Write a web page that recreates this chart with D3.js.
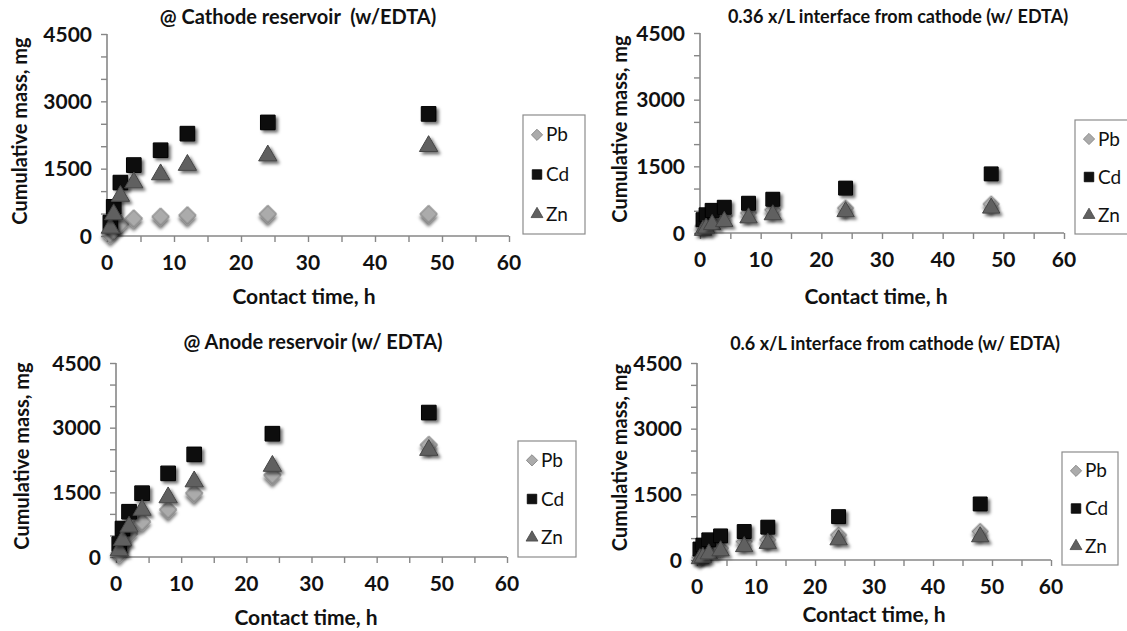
<!DOCTYPE html>
<html><head><meta charset="utf-8">
<script src="https://cdn.jsdelivr.net/npm/d3@7"></script>
<style>
body{margin:0;background:#fff;}
svg{display:block;font-family:Lato,'Open Sans',sans-serif;}
text{white-space:pre;}
</style>
</head><body>
<svg id="c" width="1127" height="631"></svg>
<script>
// ---- data ----
const times = [0.5, 1, 2, 4, 8, 12, 24, 48];
const metals = ["Pb", "Cd", "Zn"];
const xTickLabels = [0, 10, 20, 30, 40, 50, 60];
const yTickLabels = [0, 1500, 3000, 4500];

const cathodePb = [40, 150, 270, 390, 430, 460, 490, 490];
const cathodeCd = [300, 650, 1190, 1580, 1910, 2280, 2530, 2720];
const cathodeZn = [180, 480, 890, 1190, 1370, 1580, 1790, 2000];

const int036Pb = [150, 230, 300, 380, 450, 520, 560, 650];
const int036Cd = [300, 410, 510, 580, 670, 760, 1010, 1330];
const int036Zn = [60, 110, 190, 260, 340, 410, 480, 560];

const anodePb = [80, 270, 540, 820, 1100, 1480, 1900, 2600];
const anodeCd = [300, 660, 1050, 1480, 1940, 2380, 2860, 3350];
const anodeZn = [150, 390, 700, 1090, 1380, 1750, 2110, 2480];

const int06Pb = [60, 114, 190, 270, 420, 460, 570, 650];
const int06Cd = [250, 340, 460, 550, 650, 750, 990, 1280];
const int06Zn = [30, 60, 140, 210, 305, 380, 460, 530];

const titles = [
  "@ Cathode reservoir  (w/EDTA)",
  "0.36 x/L interface from cathode (w/ EDTA)",
  "@ Anode reservoir (w/ EDTA)",
  "0.6 x/L interface from cathode (w/ EDTA)"
];
const xTitle = "Contact time, h";
const yTitle = "Cumulative mass, mg";

// ---- layout ----
const panels = [
  {data: [cathodePb, cathodeCd, cathodeZn], title: titles[0],
   x0: 107, x1: 509, y0: 236, y1: 34, titleX: 298, titleY: 24, titleSize: 20,
   yLabX: 20, xLabX: 304, xLabY: 304, ms: 1,
   leg: {x: 523, y: 115, w: 62, h: 119}},
  {data: [int036Pb, int036Cd, int036Zn], title: titles[1],
   x0: 700, x1: 1064, y0: 233, y1: 33, titleX: 898, titleY: 23, titleSize: 18,
   yLabX: 620, xLabX: 876, xLabY: 304, ms: 0.9,
   leg: {x: 1075, y: 120, w: 62, h: 114}},
  {data: [anodePb, anodeCd, anodeZn], title: titles[2],
   x0: 116, x1: 507, y0: 557, y1: 363, titleX: 313, titleY: 349, titleSize: 20,
   yLabX: 22, xLabX: 306, xLabY: 625, ms: 1,
   leg: {x: 518, y: 441, w: 58, h: 116}},
  {data: [int06Pb, int06Cd, int06Zn], title: titles[3],
   x0: 697, x1: 1051, y0: 560, y1: 363, titleX: 895, titleY: 350, titleSize: 18,
   yLabX: 620, xLabX: 874, xLabY: 622, ms: 0.9,
   leg: {x: 1062, y: 452, w: 56, h: 113}}
];

const styles = {
  Pb: {fill: "#ababab", stroke: "#7f7f7f", type: d3.symbolSquare, rot: 45, size: 150},
  Cd: {fill: "#111111", stroke: "#000000", type: d3.symbolSquare, rot: 0, size: 215},
  Zn: {fill: "#606060", stroke: "#454545", type: d3.symbolTriangle, rot: 0, size: 145}
};

const svg = d3.select("#c");
const defs = svg.append("defs");
const f = defs.append("filter").attr("id", "sh").attr("x", "-50%").attr("y", "-50%").attr("width", "200%").attr("height", "200%");
f.append("feDropShadow").attr("dx", 2.5).attr("dy", 2.5).attr("stdDeviation", 1.8)
  .attr("flood-color", "#000").attr("flood-opacity", 0.55);

panels.forEach(p => {
  const g = svg.append("g");
  const x = d3.scaleLinear().domain([0, 60]).range([p.x0, p.x1]);
  const y = d3.scaleLinear().domain([0, 4500]).range([p.y0, p.y1]);

  const xa = g.append("g").attr("transform", `translate(0,${p.y0})`)
    .call(d3.axisBottom(x).tickValues(d3.range(0, 61, 5)).tickSize(6).tickFormat(""));
  const ya = g.append("g").attr("transform", `translate(${p.x0},0)`)
    .call(d3.axisLeft(y).tickValues(d3.range(0, 4501, 500)).tickSize(6).tickFormat(""));
  [xa, ya].forEach(a => {
    a.select(".domain").attr("stroke", "#878787").attr("stroke-width", 1.6);
    a.selectAll(".tick line").attr("stroke", "#878787").attr("stroke-width", 1.4);
  });
  xa.select(".domain").attr("d", `M${p.x0},0H${p.x1}`);
  ya.select(".domain").attr("d", `M0,${p.y0}V${p.y1}`);

  g.selectAll(".xl").data(xTickLabels).join("text")
    .attr("x", d => x(d)).attr("y", p.y0 + 34)
    .attr("text-anchor", "middle").attr("font-weight", 700).attr("font-size", 21)
    .attr("fill", "#111").text(d => d);
  g.selectAll(".yl").data(yTickLabels).join("text")
    .attr("x", p.x0 - 15).attr("y", d => y(d) + 7.5)
    .attr("text-anchor", "end").attr("font-weight", 700).attr("font-size", 21)
    .attr("fill", "#111").text(d => d);

  g.append("text").attr("x", p.titleX).attr("y", p.titleY).attr("text-anchor", "middle")
    .attr("font-weight", 700).attr("font-size", p.titleSize).attr("fill", "#111").text(p.title);
  g.append("text").attr("x", p.xLabX).attr("y", p.xLabY).attr("text-anchor", "middle")
    .attr("font-weight", 700).attr("font-size", 21).attr("fill", "#111").text(xTitle);
  const cy = (p.y0 + p.y1) / 2 - 4;
  g.append("text").attr("transform", `translate(${p.yLabX + 7},${cy}) rotate(-90)`)
    .attr("text-anchor", "middle").attr("font-weight", 700).attr("font-size", 20)
    .attr("fill", "#111").text(yTitle);

  metals.forEach((m, i) => {
    const vals = p.data[i];
    const st = styles[m];
    g.append("g").selectAll("path").data(times.map((t, j) => [t, vals[j]])).join("path")
      .attr("d", d3.symbol().type(st.type).size(st.size * p.ms)())
      .attr("transform", d => `translate(${x(d[0])},${y(d[1])}) rotate(${st.rot})`)
      .attr("fill", st.fill).attr("stroke", st.stroke).attr("stroke-width", 1)
      .attr("filter", "url(#sh)");
  });

  const L = p.leg;
  g.append("rect").attr("x", L.x).attr("y", L.y).attr("width", L.w).attr("height", L.h)
    .attr("fill", "#fff").attr("stroke", "#8c8c8c").attr("stroke-width", 1.2);
  const step = L.h / 3;
  metals.forEach((m, i) => {
    const st = styles[m];
    const cyl = L.y + step * (i + 0.5);
    g.append("path").attr("d", d3.symbol().type(st.type).size(st.size * 0.42)())
      .attr("transform", `translate(${L.x + 14},${cyl}) rotate(${st.rot})`)
      .attr("fill", st.fill).attr("stroke", st.stroke).attr("stroke-width", 0.8);
    g.append("text").attr("x", L.x + 23).attr("y", cyl + 6.5).attr("font-size", 19)
      .attr("fill", "#111").text(m);
  });
});
</script>
</body></html>
